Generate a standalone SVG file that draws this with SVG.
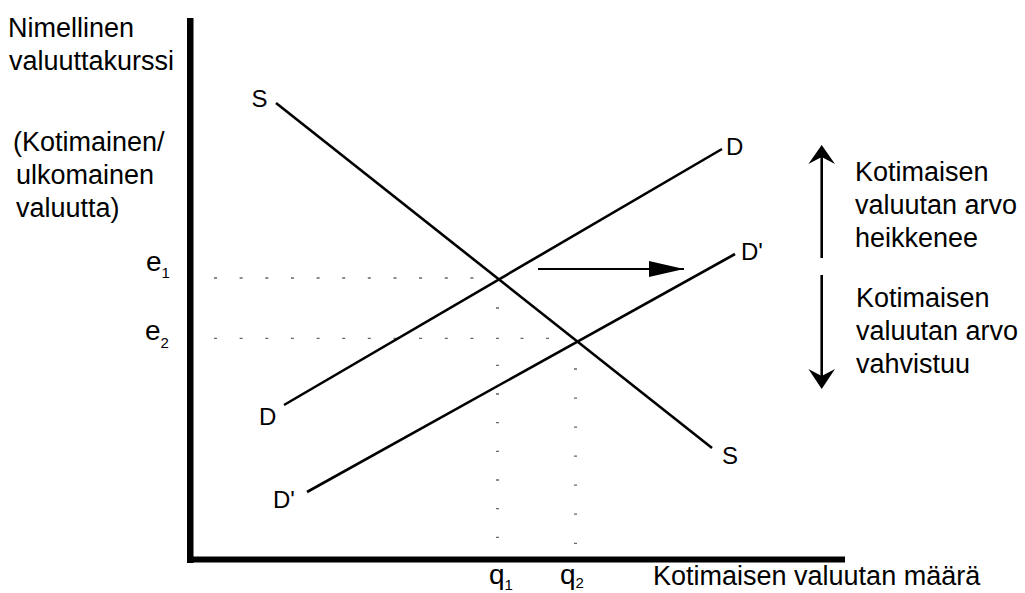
<svg xmlns="http://www.w3.org/2000/svg" width="1025" height="593" viewBox="0 0 1025 593">
<style>
.t{font-family:"Liberation Sans",Arial,sans-serif;fill:#000;}
.big{font-size:27px;}
.lbl{font-size:24px;}
.var{font-size:28px;}
.sub{font-size:15px;}
.ln{stroke:#000;stroke-width:2.6;fill:none;stroke-linecap:butt;}
.dots{stroke:#666;stroke-width:1.3;fill:none;}
</style>
<defs>
<marker id="tri" markerWidth="36" markerHeight="18" refX="35" refY="8" orient="auto" markerUnits="userSpaceOnUse">
<polygon points="0,0 35,8 0,16" fill="#000"/>
</marker>
</defs>
<rect width="1025" height="593" fill="#fff"/>
<g id="axes">
<rect x="187" y="18" width="6.5" height="545" fill="#000"/>
<rect x="187" y="556.5" width="658" height="6" fill="#000"/>
</g>
<g id="guides">
<path class="dots" d="M214 278h3M239.6 278h3M265.3 278h3M290.9 278h3M316.6 278h3M342.2 278h3M367.8 278h3M393.5 278h3M419.1 278h3M444.8 278h3M470.4 278h3
M214 338.3h3M239.6 338.3h3M265.3 338.3h3M290.9 338.3h3M316.6 338.3h3M342.2 338.3h3M367.8 338.3h3M393.5 338.3h3M419.1 338.3h3M444.8 338.3h3M470.4 338.3h3M496 338.3h3M520.5 338.3h3M546 338.3h3
M496 308h3M496 365.3h3M496 394h3M496 422.7h3M496 451.3h3M496 480h3M496 508.7h3M496 537.3h3
M574 369h3M574 398.1h3M574 427.1h3M574 456.2h3M574 485.2h3M574 514.2h3M574 543.3h3"/>
</g>
<g id="connectors">
<line id="S" class="ln" x1="276" y1="103" x2="712" y2="448"/>
<line id="D" class="ln" x1="284" y1="405" x2="722" y2="149"/>
<line id="Dp" class="ln" x1="307" y1="492" x2="735" y2="254"/>
<line id="shift" x1="538" y1="269" x2="684" y2="269" stroke="#000" stroke-width="2" marker-end="url(#tri)"/>
<g id="upArrow">
<line x1="821.7" y1="258" x2="821.7" y2="156" stroke="#000" stroke-width="2.6"/>
<path d="M821.7 145 L835 164 L821.7 157 L808.4 164 Z" fill="#000"/>
</g>
<g id="downArrow">
<line x1="821.7" y1="275" x2="821.7" y2="378" stroke="#000" stroke-width="2.6"/>
<path d="M821.7 389 L835 369 L821.7 376 L808.4 369 Z" fill="#000"/>
</g>
</g>
<g id="yLabel">
<text class="t big" x="8" y="37">Nimellinen</text>
<text class="t big" x="9" y="70">valuuttakurssi</text>
<text class="t big" x="13" y="151">(Kotimainen/</text>
<text class="t big" x="16" y="184">ulkomainen</text>
<text class="t big" x="16" y="217">valuutta)</text>
</g>
<g id="xLabel">
<text class="t big" x="653" y="585">Kotimaisen valuutan määrä</text>
</g>
<g id="weaken">
<text class="t big" x="855" y="181">Kotimaisen</text>
<text class="t big" x="855" y="214">valuutan arvo</text>
<text class="t big" x="855" y="247">heikkenee</text>
</g>
<g id="strengthen">
<text class="t big" x="856" y="307">Kotimaisen</text>
<text class="t big" x="856" y="340">valuutan arvo</text>
<text class="t big" x="856" y="373">vahvistuu</text>
</g>
<g id="curveLabels">
<text class="t lbl" x="251.5" y="107">S</text>
<text class="t lbl" x="722" y="464">S</text>
<text class="t lbl" x="726" y="155">D</text>
<text class="t lbl" x="259" y="425">D</text>
<text class="t lbl" x="741" y="260">D'</text>
<text class="t lbl" x="273" y="508">D'</text>
</g>
<g id="ticks">
<text class="t var" x="146" y="271">e<tspan class="sub" dy="7">1</tspan></text>
<text class="t var" x="145" y="340">e<tspan class="sub" dy="8">2</tspan></text>
<text class="t var" x="489" y="584">q<tspan class="sub" dy="6">1</tspan></text>
<text class="t var" x="560" y="584">q<tspan class="sub" dy="4">2</tspan></text>
</g>
</svg>
